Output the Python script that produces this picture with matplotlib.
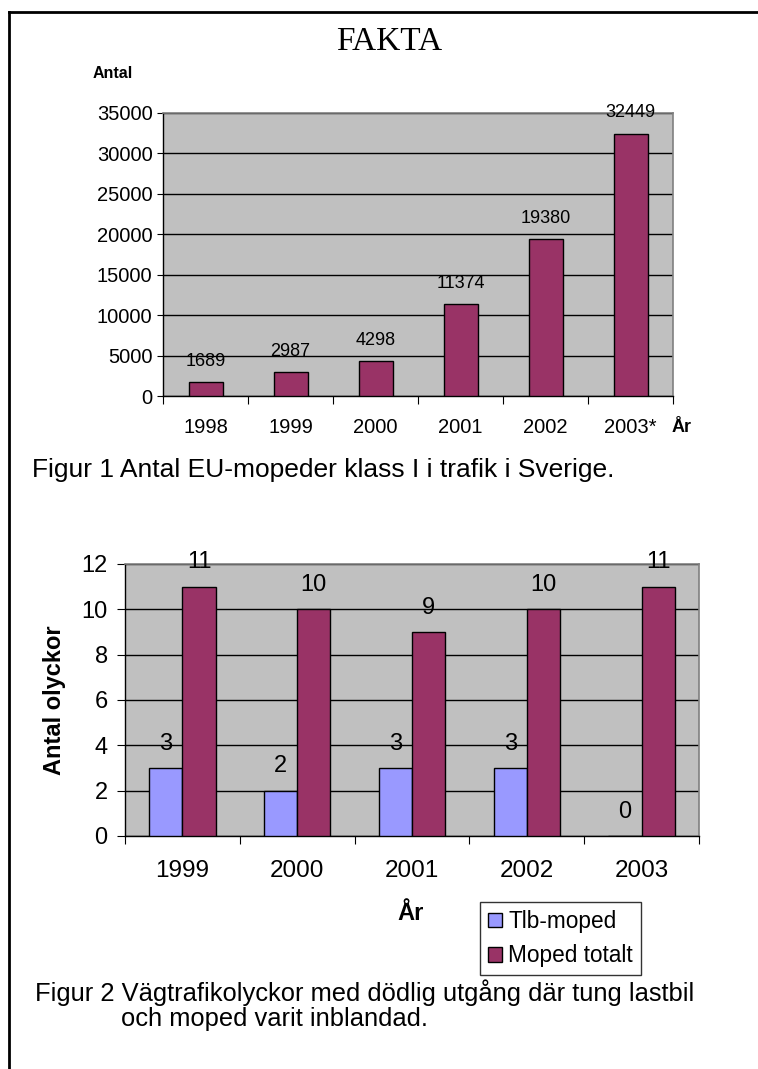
import matplotlib
matplotlib.use("Agg")
import matplotlib.pyplot as plt
from matplotlib.lines import Line2D
from matplotlib.patches import Patch

plt.rcParams['font.family'] = ['Liberation Sans', 'DejaVu Sans']

# Figure 1: EU mopeds class I in traffic
years1 = ["1998", "1999", "2000", "2001", "2002", "2003*"]
mopeds = [1689, 2987, 4298, 11374, 19380, 32449]

# Figure 2: fatal accidents
years2 = ["1999", "2000", "2001", "2002", "2003"]
tlb_moped = [3, 2, 3, 3, 0]
moped_total = [11, 10, 9, 10, 11]

MAROON = "#993366"
BLUE = "#9999FF"
PLOT_BG = "#C0C0C0"

W, H = 758, 1069
fig = plt.figure(figsize=(W / 100, H / 100), dpi=100)


def px_axes(x0, y0, x1, y1):
    return fig.add_axes([x0 / W, 1 - y1 / H, (x1 - x0) / W, (y1 - y0) / H])


def fx(x):
    return x / W


def fy(y):
    return 1 - y / H


def style_axes(ax, n, ymax, ystep, fs, ytick_len, ypad, xtick_len):
    ax.set_facecolor(PLOT_BG)
    ax.set_xlim(-0.5, n - 0.5)
    ax.set_ylim(0, ymax)
    ax.set_yticks(range(0, ymax + 1, ystep))
    ax.yaxis.grid(True, color="black", linewidth=1)
    ax.set_axisbelow(True)
    for s in ("top", "right"):
        ax.spines[s].set_color("#808080")
        ax.spines[s].set_linewidth(1.2)
    for s in ("left", "bottom"):
        ax.spines[s].set_color("black")
        ax.spines[s].set_linewidth(1)
    # boundary ticks between categories, labels centred on categories
    ax.set_xticks([i - 0.5 for i in range(n + 1)])
    ax.set_xticklabels([])
    ax.tick_params(axis="x", which="major", direction="out", length=xtick_len, color="black")
    ax.tick_params(axis="y", direction="out", length=ytick_len, labelsize=fs, pad=ypad)


# ---- Chart 1 ----
ax1 = px_axes(163, 113, 673, 396)
style_axes(ax1, len(years1), 35000, 5000, 14.5, 4.5, 3, 5.5)
x1 = list(range(len(years1)))
ax1.bar(x1, mopeds, width=0.4, color=MAROON, edgecolor="black", linewidth=1, zorder=3)
ax1.set_xticks(x1, minor=True)
ax1.set_xticklabels(years1, minor=True, fontsize=14.5)
ax1.tick_params(axis="x", which="minor", length=0, pad=16)
for xi, v in zip(x1, mopeds):
    ax1.annotate(str(v), (xi, v), xytext=(0, 15), textcoords="offset points",
                 ha="center", va="center", fontsize=13, zorder=4)

fig.text(fx(389), fy(42), "FAKTA", family="Liberation Serif", fontsize=24,
         ha="center", va="center")
fig.text(fx(93), fy(73), "Antal", fontsize=11.5, fontweight="bold",
         ha="left", va="center")
fig.text(fx(672), fy(428), "År", fontsize=13, fontweight="bold",
         ha="left", va="center")
fig.text(fx(32), fy(470), "Figur 1 Antal EU-mopeder klass I i trafik i Sverige.",
         fontsize=19, ha="left", va="center")

# ---- Chart 2 ----
ax2 = px_axes(125, 564, 699, 836)
style_axes(ax2, len(years2), 12, 2, 17, 6, 6.5, 6)
x2 = list(range(len(years2)))
bw = 0.29
ax2.bar([x - bw / 2 for x in x2], tlb_moped, width=bw, color=BLUE,
        edgecolor="black", linewidth=1, zorder=3, label="Tlb-moped")
ax2.bar([x + bw / 2 for x in x2], moped_total, width=bw, color=MAROON,
        edgecolor="black", linewidth=1, zorder=3, label="Moped totalt")
ax2.set_xticks(x2, minor=True)
ax2.set_xticklabels(years2, minor=True, fontsize=17.5)
ax2.tick_params(axis="x", which="minor", length=0, pad=17)
for xi, a, b in zip(x2, tlb_moped, moped_total):
    ax2.annotate(str(a), (xi - bw / 2, a), xytext=(0, 17.5), textcoords="offset points",
                 ha="center", va="center", fontsize=17, zorder=4)
    ax2.annotate(str(b), (xi + bw / 2, b), xytext=(0, 17.5), textcoords="offset points",
                 ha="center", va="center", fontsize=17, zorder=4)
fig.text(fx(55), fy(700), "Antal olyckor", fontsize=17, fontweight="bold",
         rotation=90, ha="center", va="center")

fig.text(fx(411), fy(914), "År", fontsize=17, fontweight="bold",
         ha="center", va="center")

handles = [Patch(facecolor=BLUE, edgecolor="black"),
           Patch(facecolor=MAROON, edgecolor="black")]
leg = fig.legend(handles, ["Tlb-moped", "Moped totalt"], loc="upper left",
                 bbox_to_anchor=(fx(480), fy(902)), fontsize=16.3, frameon=True,
                 fancybox=False, edgecolor="black", handlelength=0.63,
                 handleheight=0.63, handletextpad=0.27, borderpad=0.35,
                 labelspacing=0.5, borderaxespad=0)
leg.get_frame().set_linewidth(1)

fig.text(fx(35), fy(993), "Figur 2 Vägtrafikolyckor med dödlig utgång där tung lastbil",
         fontsize=18.4, ha="left", va="center")
fig.text(fx(121), fy(1019), "och moped varit inblandad.",
         fontsize=18.4, ha="left", va="center")

# page frame
fig.add_artist(Line2D([fx(9), 1], [fy(12), fy(12)], color="black", linewidth=2))
fig.add_artist(Line2D([fx(9), fx(9)], [fy(12), 0], color="black", linewidth=2))

fig.savefig("out.png", dpi=100)
